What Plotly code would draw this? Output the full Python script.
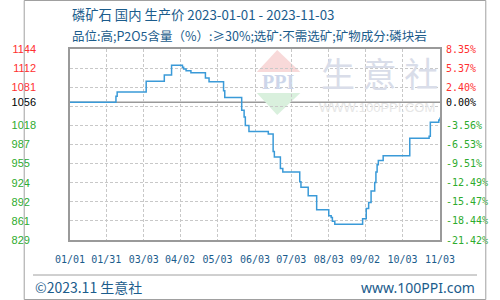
import plotly.graph_objects as go

# ---------------- data ----------------
dates = [
    "2023-01-01", "2023-02-08", "2023-02-09", "2023-03-05", "2023-03-20", "2023-03-26",
    "2023-04-04", "2023-04-05", "2023-04-07", "2023-04-11", "2023-04-23", "2023-04-26",
    "2023-05-08", "2023-05-09", "2023-05-23", "2023-05-25", "2023-05-26", "2023-05-29",
    "2023-06-14", "2023-06-18", "2023-06-19", "2023-06-24", "2023-06-26",
    "2023-07-10", "2023-07-11", "2023-07-17", "2023-07-24",
    "2023-08-03", "2023-08-05", "2023-08-06", "2023-08-08", "2023-08-31",
    "2023-09-03", "2023-09-05", "2023-09-07", "2023-09-10", "2023-09-11", "2023-09-12",
    "2023-09-13", "2023-09-17", "2023-10-09", "2023-10-25", "2023-10-26",
    "2023-11-02", "2023-11-03",
]
prices = [
    1056, 1066, 1073, 1091, 1101, 1117,
    1114, 1111, 1108, 1105, 1096, 1090,
    1075, 1064, 1043, 1032, 1018, 1008,
    1004, 975, 966, 947, 941,
    925, 916, 902, 879,
    869, 866, 860, 855, 864,
    881, 891, 910, 924, 941, 953,
    960, 968, 997, 1000, 1023,
    1027, 1031,
]

x_tick_dates = ["2023-01-01", "2023-01-31", "2023-03-03", "2023-04-02", "2023-05-03",
                "2023-06-03", "2023-07-03", "2023-08-03", "2023-09-02", "2023-10-03",
                "2023-11-03"]
x_tick_labels = ["01/01", "01/31", "03/03", "04/02", "05/03", "06/03", "07/03",
                 "08/03", "09/02", "10/03", "11/03"]

grid_values = [829, 860.5, 892, 923.5, 955, 986.5, 1018, 1049.5, 1081, 1112.5, 1144]
left_tick_values = [829, 860.5, 892, 923.5, 955, 986.5, 1018, 1056, 1081, 1112.5, 1144]
left_tick_labels = ["829", "861", "892", "924", "955", "987", "1018", "1056", "1081", "1112", "1144"]
right_tick_labels = ["-21.42%", "-18.44%", "-15.47%", "-12.49%", "-9.51%", "-6.53%",
                     "-3.56%", "0.00%", "2.40%", "5.37%", "8.35%"]
base_price = 1056

title_line1 = "磷矿石 国内 生产价 2023-01-01 - 2023-11-03"
title_line2 = "品位:高;P2O5含量（%）:≥30%;选矿:不需选矿;矿物成分:磷块岩"

# ---------------- styling helpers ----------------
RED = "#ff3030"
GREEN = "#2eab2e"
BLACK = "#000000"
BLUE_TXT = "#1b5c8c"
LINE = "#3a9ad8"

def colour_for(v):
    if v > base_price:
        return RED
    if v == base_price:
        return BLACK
    return GREEN

def pad_left(s):
    return s + "\u2007" * (4 - len(s))

left_text = [f'<span style="color:{colour_for(v)}">{pad_left(t)}</span>'
             for v, t in zip(left_tick_values, left_tick_labels)]
right_text = [f'<span style="color:{colour_for(v)}">{t}</span>'
              for v, t in zip(left_tick_values, right_tick_labels)]

# plot-area geometry in pixels (for paper conversions of decorations)
L, T, W, H = 50, 49, 400, 191
def xp(px):
    return (px - L) / W
def yp(py):
    return 1 - (py - T) / H

yrange = [grid_values[0], grid_values[-1]]

fig = go.Figure()
fig.add_trace(go.Scatter(
    x=dates, y=prices, mode="lines", line=dict(color=LINE, width=1.5, shape="hv"),
    hoverinfo="skip", showlegend=False,
))

fig.update_layout(
    width=500, height=300,
    margin=dict(l=L, r=500 - L - W, t=T, b=300 - T - H),
    paper_bgcolor="white", plot_bgcolor="white",
    showlegend=False,
    xaxis=dict(
        type="date", range=[x_tick_dates[0], x_tick_dates[-1]],
        tickmode="array", tickvals=x_tick_dates, ticktext=x_tick_labels,
        showgrid=True, gridcolor="#c8c8c8", griddash="3px,2px", gridwidth=1,
        showline=True, linecolor="#9a9a9a", linewidth=1.5, mirror=True,
        ticks="", ticklabelstandoff=9,
        tickfont=dict(family="DejaVu Sans Mono", size=10, color=BLUE_TXT),
        zeroline=False, fixedrange=True,
    ),
    yaxis=dict(
        range=yrange, tickmode="array", tickvals=left_tick_values, ticktext=left_text,
        showgrid=False, zeroline=False, ticks="", ticklabelstandoff=30,
        showline=True, linecolor="#9a9a9a", linewidth=1.5, mirror=True,
        tickfont=dict(family="Liberation Sans", size=11),
        fixedrange=True,
    ),
    yaxis2=dict(
        range=yrange, overlaying="y", side="right", tickmode="array",
        tickvals=left_tick_values, ticktext=right_text,
        showgrid=False, zeroline=False, ticks="", ticklabelstandoff=5,
        tickfont=dict(family="DejaVu Sans Mono", size=10),
        fixedrange=True,
    ),
    yaxis3=dict(
        range=yrange, overlaying="y", side="left", tickmode="array",
        tickvals=grid_values, showticklabels=False,
        showgrid=True, gridcolor="#c8c8c8", griddash="3px,2px", gridwidth=1,
        zeroline=False, ticks="", fixedrange=True,
    ),
)

# invisible anchors so the overlay axes render
fig.add_trace(go.Scatter(x=[dates[0]], y=[base_price], yaxis="y2", mode="markers",
                         marker=dict(opacity=0), hoverinfo="skip", showlegend=False))
fig.add_trace(go.Scatter(x=[dates[0]], y=[base_price], yaxis="y3", mode="markers",
                         marker=dict(opacity=0), hoverinfo="skip", showlegend=False))

shapes = []
# base line
shapes.append(dict(type="line", xref="paper", yref="y", x0=0, x1=1, y0=base_price, y1=base_price,
                   line=dict(color="#9a9a9a", width=1.5), layer="below"))
# watermark logo triangles
shapes.append(dict(type="path", xref="paper", yref="paper", layer="below",
                   path=f"M {xp(274)},{yp(50)} L {xp(299)},{yp(72)} L {xp(252)},{yp(72)} Z",
                   fillcolor="#f8d9d9", line=dict(width=0)))
shapes.append(dict(type="path", xref="paper", yref="paper", layer="below",
                   path=f"M {xp(252)},{yp(93)} L {xp(299)},{yp(93)} L {xp(274)},{yp(115)} Z",
                   fillcolor="#d9f0dd", line=dict(width=0)))
# footer separator
shapes.append(dict(type="line", xref="paper", yref="paper", x0=xp(10), x1=xp(490),
                   y0=yp(275), y1=yp(275), line=dict(color="#a0a0a0", width=1)))
# outer border
shapes.append(dict(type="rect", xref="paper", yref="paper", x0=xp(0.5), x1=xp(499.5),
                   y0=yp(299.5), y1=yp(0.5), line=dict(color="#a0a0a0", width=1)))
fig.update_layout(shapes=shapes)

annotations = [
    dict(text=title_line1, xref="paper", yref="paper", x=xp(50), y=yp(15), xanchor="left",
         yanchor="middle", showarrow=False,
         font=dict(family="Noto Sans CJK SC", size=13.3, color=BLUE_TXT)),
    dict(text=title_line2, xref="paper", yref="paper", x=xp(50), y=yp(35), xanchor="left",
         yanchor="middle", showarrow=False,
         font=dict(family="Noto Sans CJK SC", size=12.5, color=BLUE_TXT)),
    dict(text="©2023.11 生意社", xref="paper", yref="paper", x=xp(10), y=yp(287), xanchor="left",
         yanchor="middle", showarrow=False,
         font=dict(family="Noto Sans CJK SC", size=14, color=BLUE_TXT)),
    dict(text="www.100PPI.com", xref="paper", yref="paper", x=xp(490), y=yp(287), xanchor="right",
         yanchor="middle", showarrow=False,
         font=dict(family="Noto Sans", size=14, color=BLUE_TXT)),
    # watermark texts
    dict(text="<b>PPI</b>", xref="paper", yref="paper", x=xp(275), y=yp(82), xanchor="center",
         yanchor="middle", showarrow=False,
         font=dict(family="Liberation Serif", size=20, color="#cdd6ea")),
    dict(text="生 意 社", xref="paper", yref="paper", x=xp(385), y=yp(72), xanchor="center",
         yanchor="middle", showarrow=False,
         font=dict(family="Noto Sans CJK SC", size=34, color="#d9dde9")),
    dict(text="WWW.100PPI.COM", xref="paper", yref="paper", x=xp(382), y=yp(108), xanchor="center",
         yanchor="middle", showarrow=False,
         font=dict(family="Liberation Sans", size=13, color="#e6e6e6")),
]
fig.update_layout(annotations=annotations)

fig.write_html("out.html")
